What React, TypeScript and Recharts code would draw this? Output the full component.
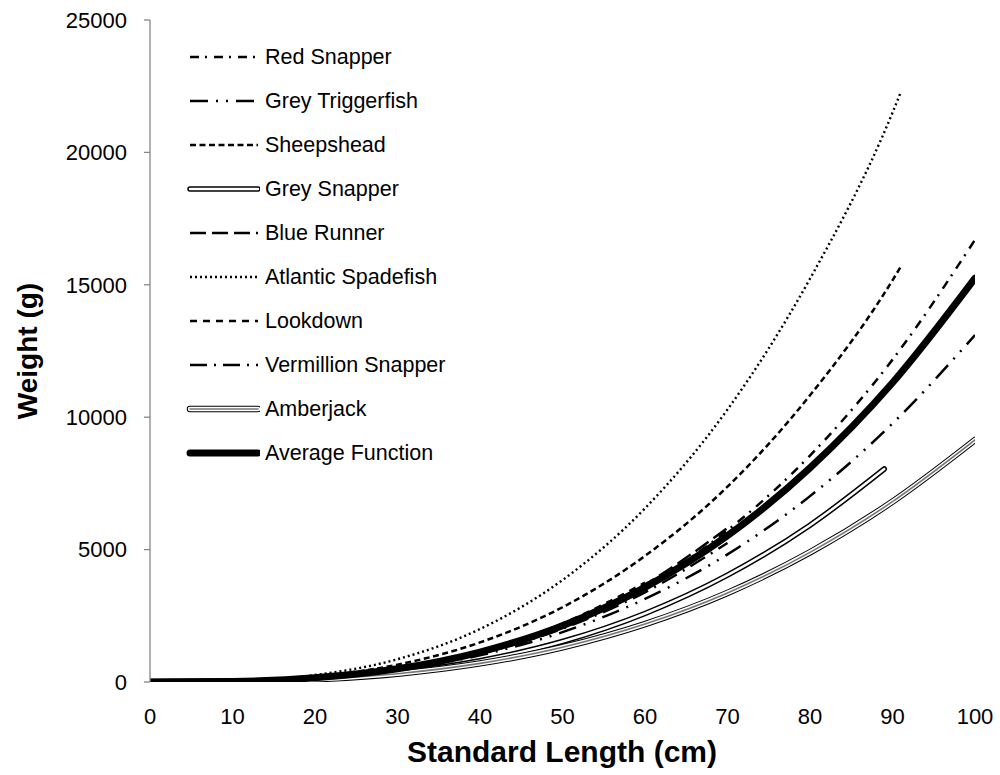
import React from 'react';
import { LineChart, Line, XAxis, YAxis } from 'recharts';

// Axis ticks
const lengthTicks = [0, 10, 20, 30, 40, 50, 60, 70, 80, 90, 100];
const weightTicks = [0, 5000, 10000, 15000, 20000, 25000];

// Length (cm) / weight (g) points for each species curve
const redSnapperL = [0, 10, 20, 30, 40, 50, 60, 70, 80, 90, 100];
const redSnapperW = [0, 16.7, 134, 451, 1069, 2088, 3607, 5728, 8550, 12174, 16700];

const greyTriggerfishL = [0, 10, 20, 30, 40, 50, 60, 70, 80, 90, 100];
const greyTriggerfishW = [0, 20.8, 144, 450, 1007, 1882, 3137, 4822, 7019, 9760, 13100];

const sheepsheadL = [0, 10, 20, 30, 40, 50, 60, 70, 80, 90, 91];
const sheepsheadW = [0, 28.3, 206, 655, 1494, 2823, 4762, 7378, 10826, 15170, 15684];

const greySnapperL = [0, 10, 20, 30, 40, 50, 60, 70, 80, 89];
const greySnapperW = [0, 14.8, 109, 351, 804, 1529, 2588, 4035, 5923, 8044];

const blueRunnerL = [0, 10, 20, 30, 40, 50, 60, 70];
const blueRunnerW = [0, 18.3, 143, 473, 1109, 2151, 3684, 5816];

const atlanticSpadefishL = [0, 10, 20, 30, 40, 50, 60, 70, 80, 90, 91];
const atlanticSpadefishW = [0, 34.5, 263, 861, 2000, 3850, 6560, 10290, 15230, 21500, 22270];

const lookdownL = [0, 10, 20, 30, 40, 50, 60];
const lookdownW = [0, 20.8, 155, 502, 1158, 2212, 3750];

const vermillionSnapperL = [0, 10, 20, 30, 40, 50, 60, 70];
const vermillionSnapperW = [0, 20.5, 148, 469, 1065, 2015, 3388, 5250];

const amberjackL = [0, 10, 20, 30, 40, 50, 60, 70, 80, 90, 100];
const amberjackW = [0, 14.5, 101, 314, 703, 1313, 2188, 3364, 4897, 6810, 9139];

const averageL = [0, 10, 20, 30, 40, 50, 60, 70, 80, 90, 100];
const averageW = [0, 22, 158, 499, 1131, 2126, 3575, 5525, 8086, 11300, 15250];

const FONT = '"Liberation Sans", Arial, sans-serif';

type Stroke = { color: string; width: number; dash?: string; cap?: 'round' | 'butt' };
type Series = { name: string; L: number[]; W: number[]; strokes: Stroke[] };

const toPoints = (L: number[], W: number[]) => L.map((l, i) => ({ L: l, W: W[i] }));

const series: Series[] = [
  { name: 'Red Snapper', L: redSnapperL, W: redSnapperW, strokes: [{ color: '#000', width: 2.5, dash: '9 6 2 7' }] },
  { name: 'Grey Triggerfish', L: greyTriggerfishL, W: greyTriggerfishW, strokes: [{ color: '#000', width: 2.5, dash: '18 8 2 8 2 8' }] },
  { name: 'Sheepshead', L: sheepsheadL, W: sheepsheadW, strokes: [{ color: '#000', width: 2.5, dash: '6 3.5' }] },
  {
    name: 'Grey Snapper', L: greySnapperL, W: greySnapperW, strokes: [
      { color: '#000', width: 5.5, cap: 'round' },
      { color: '#fff', width: 2.5, cap: 'round' },
    ],
  },
  { name: 'Blue Runner', L: blueRunnerL, W: blueRunnerW, strokes: [{ color: '#000', width: 2.5, dash: '16 6' }] },
  { name: 'Atlantic Spadefish', L: atlanticSpadefishL, W: atlanticSpadefishW, strokes: [{ color: '#000', width: 2.4, dash: '2 3' }] },
  { name: 'Lookdown', L: lookdownL, W: lookdownW, strokes: [{ color: '#000', width: 2.5, dash: '7 6' }] },
  { name: 'Vermillion Snapper', L: vermillionSnapperL, W: vermillionSnapperW, strokes: [{ color: '#000', width: 2.5, dash: '17 7 2 7' }] },
  {
    name: 'Amberjack', L: amberjackL, W: amberjackW, strokes: [
      { color: '#000', width: 6.5, cap: 'round' },
      { color: '#fff', width: 4.5, cap: 'round' },
      { color: '#777', width: 1.6, cap: 'round' },
    ],
  },
  { name: 'Average Function', L: averageL, W: averageW, strokes: [{ color: '#000', width: 7, cap: 'round' }] },
];

const LegendBox = () => (
  <div
    style={{
      position: 'absolute',
      left: 186,
      top: 35,
      fontFamily: FONT,
      fontSize: 21.5,
      color: '#000',
    }}
  >
    {series.map((s) => (
      <div key={s.name} style={{ display: 'flex', alignItems: 'center', height: 44 }}>
        <svg width={74} height={14} style={{ display: 'block' }}>
          {s.strokes.map((st, i) => (
            <line
              key={i}
              x1={4}
              y1={7}
              x2={72}
              y2={7}
              stroke={st.color}
              strokeWidth={st.width}
              strokeDasharray={st.dash}
              strokeLinecap={st.cap || 'butt'}
            />
          ))}
        </svg>
        <span style={{ marginLeft: 5, whiteSpace: 'nowrap' }}>{s.name}</span>
      </div>
    ))}
  </div>
);

export default function App() {
  return (
    <div style={{ position: 'absolute', left: 0, top: 0, width: 1000, height: 775, background: '#fff' }}>
      <LineChart width={1000} height={775} margin={{ top: 20, right: 25, bottom: 0, left: 0 }}>
        <XAxis
          type="number"
          dataKey="L"
          domain={[0, 100]}
          ticks={lengthTicks}
          allowDataOverflow
          axisLine={false}
          tickLine={false}
          height={93}
          tickMargin={20}
          tick={{ fill: '#000', fontSize: 22, fontFamily: FONT }}
          label={{
            content: () => (
              <text
                x={562}
                y={762}
                textAnchor="middle"
                fontFamily={FONT}
                fontWeight="bold"
                fontSize={30}
                fill="#000"
              >
                Standard Length (cm)
              </text>
            ),
          }}
        />
        <YAxis
          type="number"
          domain={[0, 25000]}
          ticks={weightTicks}
          allowDataOverflow
          width={150}
          axisLine={{ stroke: '#868686', strokeWidth: 1.3 }}
          tickLine={{ stroke: '#868686', strokeWidth: 1.3 }}
          tickSize={6}
          tickMargin={17}
          tick={{ fill: '#000', fontSize: 22, fontFamily: FONT }}
          label={{
            content: () => (
              <text
                x={0}
                y={0}
                transform="translate(37 351) rotate(-90)"
                textAnchor="middle"
                fontFamily={FONT}
                fontWeight="bold"
                fontSize={28}
                fill="#000"
              >
                Weight (g)
              </text>
            ),
          }}
        />
        {series.map((s) =>
          s.strokes.map((st, i) => (
            <Line
              key={`${s.name}-${i}`}
              data={toPoints(s.L, s.W)}
              dataKey="W"
              name={s.name}
              type="monotone"
              stroke={st.color}
              strokeWidth={st.width}
              strokeDasharray={st.dash}
              strokeLinecap={st.cap || 'butt'}
              dot={false}
              activeDot={false}
              isAnimationActive={false}
            />
          ))
        )}
      </LineChart>
      <LegendBox />
    </div>
  );
}
